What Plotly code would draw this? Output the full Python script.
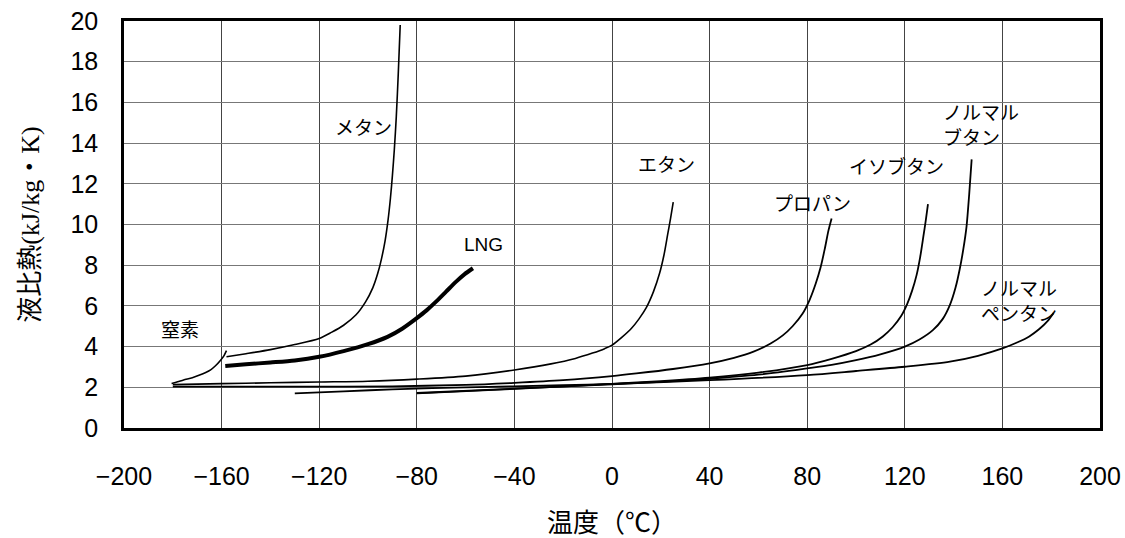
import plotly.graph_objects as go

# ---- data (temperature °C, liquid specific heat kJ/kg·K) ----
n2_t = [-180.5, -178, -175.6, -172, -169, -166.5, -164.5, -162.5, -160.5, -159, -158]
n2_cp = [2.19, 2.27, 2.36, 2.47, 2.60, 2.73, 2.86, 3.06, 3.32, 3.56, 3.80]

ch4_t = [-158, -150, -140, -130, -120, -115, -110, -105, -101, -98, -96, -94.5, -93, -91.8, -90.8, -90, -89.2, -88.4, -87.6, -86.8]
ch4_cp = [3.50, 3.65, 3.85, 4.10, 4.40, 4.70, 5.05, 5.55, 6.20, 6.90, 7.60, 8.30, 9.20, 10.2, 11.3, 12.4, 13.7, 15.3, 17.4, 19.8]

lng_t = [-158.5, -150, -140, -130, -120, -110, -100, -92, -86, -80, -76, -72, -68, -64, -60.5, -57]
lng_cp = [3.05, 3.13, 3.22, 3.32, 3.50, 3.78, 4.12, 4.48, 4.88, 5.40, 5.78, 6.22, 6.70, 7.18, 7.55, 7.85]

c2_t = [-180, -160, -140, -120, -100, -80, -60, -40, -25, -15, -8, -3, 0, 4, 8, 11, 14, 17, 19.5, 21.3, 22.8, 24, 25.1]
c2_cp = [2.13, 2.18, 2.22, 2.26, 2.30, 2.40, 2.55, 2.85, 3.15, 3.42, 3.68, 3.90, 4.07, 4.45, 4.90, 5.35, 5.90, 6.70, 7.60, 8.50, 9.50, 10.30, 11.1]

c3_t = [-180, -160, -130, -90, -60, -40, -20, 0, 10, 25, 40, 50, 58, 65, 70, 74, 78, 81, 83.5, 85.5, 87.2, 88.7, 90]
c3_cp = [2.03, 2.03, 2.03, 2.05, 2.12, 2.22, 2.35, 2.55, 2.68, 2.90, 3.18, 3.45, 3.75, 4.15, 4.55, 5.00, 5.60, 6.30, 7.10, 7.90, 8.80, 9.70, 10.3]

ic4_t = [-80, -40, 0, 20, 40, 60, 80, 90, 100, 106, 111, 115, 118.5, 121, 123, 124.8, 126.3, 127.6, 128.6, 129.5]
ic4_cp = [1.70, 1.92, 2.17, 2.30, 2.47, 2.72, 3.09, 3.40, 3.78, 4.10, 4.50, 4.95, 5.50, 6.10, 6.75, 7.50, 8.40, 9.40, 10.2, 11.0]

nc4_t = [-80, -40, 0, 20, 40, 60, 80, 90, 100, 110, 120, 126, 131.5, 135.5, 138.5, 140.8, 142.5, 144, 145.3, 146.4, 147.4]
nc4_cp = [1.72, 1.93, 2.15, 2.27, 2.42, 2.62, 2.93, 3.10, 3.33, 3.62, 4.00, 4.35, 4.81, 5.35, 6.05, 6.90, 7.80, 8.80, 9.90, 11.5, 13.2]

nc5_t = [-130, -110, -90, -60, -20, 0, 40, 80, 100, 120, 138.5, 150, 160, 166, 171, 175, 178.5, 181]
nc5_cp = [1.70, 1.80, 1.90, 2.00, 2.10, 2.17, 2.35, 2.60, 2.80, 3.01, 3.26, 3.55, 3.91, 4.20, 4.50, 4.85, 5.25, 5.65]

x_ticks = [-200, -160, -120, -80, -40, 0, 40, 80, 120, 160, 200]
y_ticks = [0, 2, 4, 6, 8, 10, 12, 14, 16, 18, 20]

labels = [
    ("窒素", -177, 4.9, "center"),
    ("メタン", -102, 14.8, "center"),
    ("LNG", -52.5, 9.0, "center"),
    ("エタン", 22.5, 13.0, "center"),
    ("プロパン", 82, 11.1, "center"),
    ("イソブタン", 116.5, 12.9, "center"),
    ("ノルマル<br>ブタン", 135, 14.95, "left"),
    ("ノルマル<br>ペンタン", 150.5, 6.3, "left"),
]

fig = go.Figure()
series = [
    (n2_t, n2_cp, 1.6), (ch4_t, ch4_cp, 1.6), (lng_t, lng_cp, 4.0),
    (c2_t, c2_cp, 1.6), (c3_t, c3_cp, 1.8), (ic4_t, ic4_cp, 1.8),
    (nc4_t, nc4_cp, 1.8), (nc5_t, nc5_cp, 1.8),
]
for t, cp, w in series:
    fig.add_trace(go.Scatter(x=t, y=cp, mode="lines",
                             line=dict(color="black", width=w, shape="spline", smoothing=0.8),
                             showlegend=False, hoverinfo="skip"))

cjk = "Noto Sans CJK JP, Liberation Sans, sans-serif"
for text, x, y, al in labels:
    fig.add_annotation(x=x, y=y, text=text, showarrow=False, align=al,
                       xanchor="left" if al == "left" else "center",
                       font=dict(family=("Liberation Sans, Arial" if text == "LNG" else cjk),
                                 size=19, color="black"))

fig.update_layout(
    width=1125, height=538,
    margin=dict(l=124, r=25, t=21, b=110),
    paper_bgcolor="white", plot_bgcolor="white",
    font=dict(family="Liberation Sans, Arial, sans-serif", color="black"),
    xaxis=dict(range=[-200, 200], tickvals=x_ticks, ticks="outside", ticklen=0,
               ticklabelstandoff=24, tickfont=dict(size=25), automargin=False,
               showgrid=True, gridcolor="#444", gridwidth=1, zeroline=False,
               showline=True, linecolor="black", linewidth=2.5, mirror=True,
               title=dict(text="温度（℃）", standoff=34,
                          font=dict(family="Liberation Serif, Noto Sans CJK JP", size=26))),
    yaxis=dict(range=[0, 20], tickvals=y_ticks, ticks="outside", ticklen=0,
               ticklabelstandoff=18, tickfont=dict(size=25), automargin=False,
               showgrid=True, gridcolor="#777", gridwidth=1, zeroline=False,
               showline=True, linecolor="black", linewidth=2.5, mirror=True,
               title=dict(text="液比熱(kJ/kg・K)", standoff=24,
                          font=dict(family="Liberation Serif, Noto Sans CJK JP", size=26))),
)

fig.write_html("out.html")
